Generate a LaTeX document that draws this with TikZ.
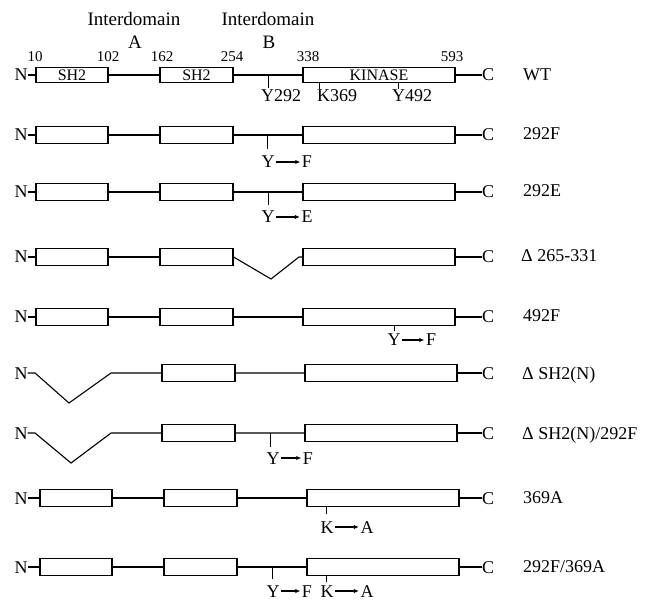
\documentclass[tikz,border=0pt]{standalone}
\usepackage{fontspec}
\setmainfont{Liberation Serif}
\usetikzlibrary{arrows.meta}
\tikzset{
  dom/.style={draw, line width=1.2pt, inner sep=0pt, minimum height=17pt, font=\fontsize{16}{16}\selectfont},
  d1/.style={dom, minimum width=72pt},
  d2/.style={dom, minimum width=73pt},
  d3/.style={dom, minimum width=152pt},
  term/.style={inner sep=0pt, text height=12pt, text depth=0pt, font=\fontsize{18}{18}\selectfont},
  rowname/.style={anchor=west, inner sep=0pt, text height=12pt, text depth=0pt, font=\fontsize{18}{18}\selectfont},
  hdr/.style={inner sep=0pt, text height=12pt, text depth=0pt, font=\fontsize{19}{19}\selectfont},
  num/.style={inner sep=0pt, text height=10pt, text depth=0pt, font=\fontsize{15}{15}\selectfont},
  mut/.style={inner sep=0pt, text height=12pt, text depth=0pt, font=\fontsize{18}{18}\selectfont},
  chain/.style={line width=1.1pt},
  tickline/.style={line width=1pt},
  sub/.style={-{Latex[length=5pt,width=4.5pt]}, line width=1.1pt, shorten >=1.5pt, shorten <=1.5pt},
}
% row without the first SH2 box
\newcommand\protrowcore[3]{%
  \node[term] (#1N) at (21,#2) {N};
  \node[d2] (#1b) at (196.5+#3,#2) {};
  \node[d3] (#1c) at (379+#3,#2) {};
  \node[term] (#1C) at (488,#2) {C};
  \draw[chain] (#1c) -- (#1C);
}
% full row
\newcommand\protrow[3]{%
  \protrowcore{#1}{#2}{#3}
  \node[d1] (#1a) at (72+#3,#2) {};
}
\begin{document}
\begin{tikzpicture}[x=1pt,y=-1pt]
\useasboundingbox (0,0) rectangle (645,601);
% headers
\node[hdr] (hA) at (134,20) {Interdomain};
\node[hdr] (hAl) at (135,43) {A};
\node[hdr] (hB) at (268,20) {Interdomain};
\node[hdr] (hBl) at (269,43) {B};
\node[num] (n10) at (35,57) {10};
\node[num] (n102) at (108,57) {102};
\node[num] (n162) at (162,57) {162};
\node[num] (n254) at (232,57) {254};
\node[num] (n338) at (308,57) {338};
\node[num] (n593) at (452,57) {593};
% WT
\node[term] (wN) at (21,75) {N};
\node[d1, minimum height=15pt] (wa) at (72,75) {SH2};
\node[d2, minimum height=15pt] (wb) at (196.5,75) {SH2};
\node[d3, minimum height=15pt] (wc) at (379,75) {KINASE};
\node[term] (wC) at (488,75) {C};
\node[rowname] (wL) at (523,75) {WT};
\draw[chain] (wN) -- (wa) (wa) -- (wb) (wb) -- (wc) (wc) -- (wC);
\coordinate (wt1) at (268,75); \coordinate (wt1e) at (268,88);
\coordinate (wt2) at (319,82.5); \coordinate (wt2e) at (319,89);
\coordinate (wt3) at (398,82.5); \coordinate (wt3e) at (398,89);
\draw[tickline] (wt1) -- (wt1e) (wt2) -- (wt2e) (wt3) -- (wt3e);
\node[mut, anchor=west] (wY292) at (261,96) {Y292};
\node[mut, anchor=west] (wK369) at (317,96) {K369};
\node[mut, anchor=west] (wY492) at (392,96) {Y492};
% 292F
\protrow{r2}{135}{0}
\draw[chain] (r2N) -- (r2a) (r2a) -- (r2b) (r2b) -- (r2c);
\node[rowname] (r2L) at (523,134) {292F};
\coordinate (r2t) at (267,135); \coordinate (r2te) at (267,149);
\draw[tickline] (r2t) -- (r2te);
\node[mut] (r2Y) at (268,162) {Y};
\node[mut] (r2F) at (307,162) {F};
\draw[sub] (r2Y) -- (r2F);
% 292E
\protrow{r3}{192}{0}
\draw[chain] (r3N) -- (r3a) (r3a) -- (r3b) (r3b) -- (r3c);
\node[rowname] (r3L) at (523,191) {292E};
\coordinate (r3t) at (268,192); \coordinate (r3te) at (268,205);
\draw[tickline] (r3t) -- (r3te);
\node[mut] (r3Y) at (268,217) {Y};
\node[mut] (r3E) at (307,217) {E};
\draw[sub] (r3Y) -- (r3E);
% Delta 265-331
\protrow{r4}{257}{0}
\draw[chain] (r4N) -- (r4a) (r4a) -- (r4b);
\coordinate (r4v) at (271,279); \coordinate (r4u) at (299,257);
\draw[chain] (r4b.east) -- (r4v) -- (r4u) -- (r4c.west);
\node[rowname] (r4L) at (521,256) {Δ 265-331};
% 492F
\protrow{r5}{317}{0}
\draw[chain] (r5N) -- (r5a) (r5a) -- (r5b) (r5b) -- (r5c);
\node[rowname] (r5L) at (523,316) {492F};
\coordinate (r5t) at (394,325.5); \coordinate (r5te) at (394,331);
\draw[tickline] (r5t) -- (r5te);
\node[mut] (r5Y) at (394,340) {Y};
\node[mut] (r5F) at (431,340) {F};
\draw[sub] (r5Y) -- (r5F);
% Delta SH2(N)
\protrowcore{r6}{373}{2}
\coordinate (r6s) at (35,373);
\coordinate (r6v) at (69,403); \coordinate (r6u) at (111,373);
\draw[chain] (r6N.east) -- (r6s) -- (r6v) -- (r6u) -- (r6b.west) (r6b) -- (r6c);
\node[rowname] (r6L) at (522,373) {Δ SH2(N)};
% Delta SH2(N)/292F
\protrowcore{r7}{433}{2}
\coordinate (r7s) at (35,433);
\coordinate (r7v) at (71,463); \coordinate (r7u) at (111,433);
\draw[chain] (r7N.east) -- (r7s) -- (r7v) -- (r7u) -- (r7b.west) (r7b) -- (r7c);
\node[rowname] (r7L) at (522,433) {Δ SH2(N)/292F};
\coordinate (r7t) at (270,433); \coordinate (r7te) at (270,447);
\draw[tickline] (r7t) -- (r7te);
\node[mut] (r7Y) at (273,458) {Y};
\node[mut] (r7F) at (308,458) {F};
\draw[sub] (r7Y) -- (r7F);
% 369A
\protrow{r8}{498}{4}
\draw[chain] (r8N) -- (r8a) (r8a) -- (r8b) (r8b) -- (r8c);
\node[rowname] (r8L) at (523,497) {369A};
\coordinate (r8t) at (326,506.5); \coordinate (r8te) at (326,514);
\draw[tickline] (r8t) -- (r8te);
\node[mut] (r8K) at (327,527) {K};
\node[mut] (r8A) at (367,527) {A};
\draw[sub] (r8K) -- (r8A);
% 292F/369A
\protrow{r9}{567}{4}
\draw[chain] (r9N) -- (r9a) (r9a) -- (r9b) (r9b) -- (r9c);
\node[rowname] (r9L) at (523,566) {292F/369A};
\coordinate (r9t) at (272,567); \coordinate (r9te) at (272,579);
\coordinate (r9k) at (326,575.5); \coordinate (r9ke) at (326,582);
\draw[tickline] (r9t) -- (r9te) (r9k) -- (r9ke);
\node[mut] (r9Y) at (273,591) {Y};
\node[mut] (r9F) at (307,591) {F};
\draw[sub] (r9Y) -- (r9F);
\node[mut] (r9K) at (327,591) {K};
\node[mut] (r9A) at (367,591) {A};
\draw[sub] (r9K) -- (r9A);
\end{tikzpicture}
\end{document}
